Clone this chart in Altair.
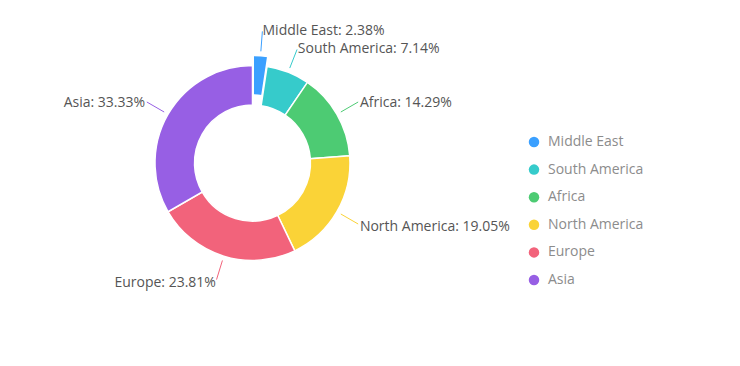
import math
import altair as alt
import pandas as pd

categories = ["Middle East", "South America", "Africa", "North America", "Europe", "Asia"]
values = [1, 3, 6, 8, 10, 14]
colors = ["#3ba0ff", "#36cbcb", "#4dcb73", "#fad337", "#f2637b", "#975fe4"]
highlighted = ["Middle East"]

df = pd.DataFrame({
    "category": categories,
    "value": values,
    "order": list(range(len(categories))),
})

W, H = 724, 350
CX, CY = 244.5, 155.0
R_OUT, R_IN = 97.5, 58.0
EXPLODE = 10
FONT = "Open Sans"

xs = alt.Scale(domain=[-CX, W - CX], range=[0, W])
ys = alt.Scale(domain=[-CY, H - CY], range=[0, H])
color_scale = alt.Scale(domain=categories, range=colors)

hl = "indexof(" + str(highlighted).replace("'", '"') + ", datum.category) >= 0"

base = (
    alt.Chart(df)
    .transform_joinaggregate(total="sum(value)")
    .transform_window(cum="sum(value)", sort=[alt.SortField("order")], frame=[None, 0])
    .transform_calculate(
        f0="(datum.cum - datum.value) / datum.total",
        f1="datum.cum / datum.total",
        mid="PI * (2 * datum.cum - datum.value) / datum.total",
        ex=f"({hl}) ? {EXPLODE} : 0",
    )
    .transform_calculate(
        ax="datum.ex * sin(datum.mid)",
        ay="-datum.ex * cos(datum.mid)",
        label="datum.category + ': ' + format(100 * datum.value / datum.total, '.2f') + '%'",
    )
)

arcs = base.mark_arc(innerRadius=R_IN, outerRadius=R_OUT, stroke="white", strokeWidth=1.5).encode(
    theta=alt.Theta("f0:Q", stack=None, scale=alt.Scale(domain=[0, 1], range=[0, 2 * math.pi])),
    theta2="f1:Q",
    x=alt.X("ax:Q", scale=xs, axis=None),
    y=alt.Y("ay:Q", scale=ys, axis=None),
    color=alt.Color(
        "category:N",
        scale=color_scale,
        sort=categories,
        legend=alt.Legend(
            orient="none",
            legendX=519,
            legendY=127,
            title=None,
            symbolType="circle",
            symbolSize=110,
            symbolStrokeWidth=0,
            labelFont=FONT,
            labelFontSize=14,
            labelColor="#8c8c8c",
            rowPadding=13.6,
            labelOffset=7,
            padding=0,
        ),
    ),
)

lines = (
    base.transform_calculate(r_in="102 + datum.ex", r_out="122 + datum.ex")
    .transform_fold(["r_in", "r_out"], as_=["key", "rad"])
    .transform_calculate(
        lx="datum.rad * sin(datum.mid)",
        ly="-datum.rad * cos(datum.mid)",
    )
    .mark_line(strokeWidth=1)
    .encode(
        x=alt.X("lx:Q", scale=xs, axis=None),
        y=alt.Y("ly:Q", scale=ys, axis=None),
        color=alt.Color("category:N", scale=color_scale, legend=None),
        detail="category:N",
        order="key:N",
    )
)

text_base = base.transform_calculate(
    tx="(124 + datum.ex) * sin(datum.mid)",
    ty="-(124 + datum.ex) * cos(datum.mid)",
)

right_text = text_base.transform_filter("datum.mid < PI").mark_text(
    align="left", baseline="middle", dy=1.5, font=FONT, fontSize=14, color="#555555"
).encode(
    x=alt.X("tx:Q", scale=xs, axis=None),
    y=alt.Y("ty:Q", scale=ys, axis=None),
    text="label:N",
)

left_text = text_base.transform_filter("datum.mid >= PI").mark_text(
    align="right", baseline="middle", dy=1.5, font=FONT, fontSize=14, color="#555555"
).encode(
    x=alt.X("tx:Q", scale=xs, axis=None),
    y=alt.Y("ty:Q", scale=ys, axis=None),
    text="label:N",
)

chart = (
    alt.layer(arcs, lines, right_text, left_text)
    .properties(width=W, height=H, autosize=alt.AutoSizeParams(type="none"), padding=0)
    .configure_view(stroke=None)
)

chart.save("out.html", embed_options={"renderer": "svg", "actions": False})
